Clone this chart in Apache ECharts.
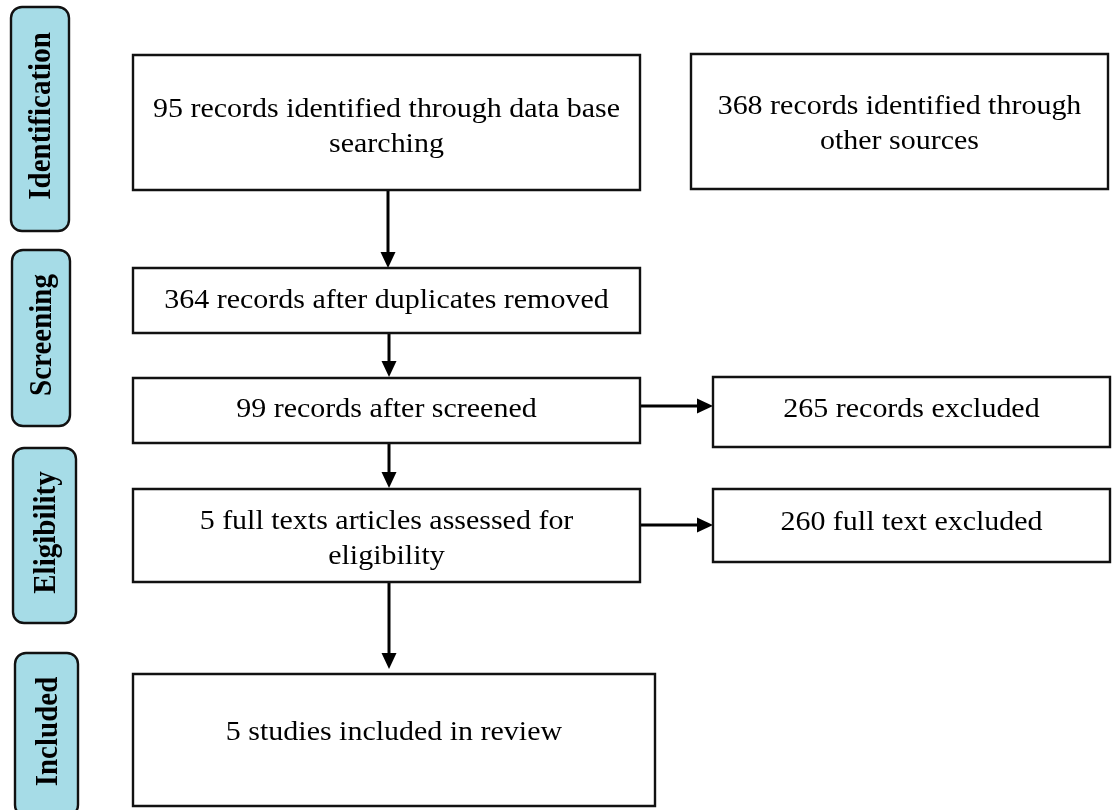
<!DOCTYPE html>
<html>
<head>
<meta charset="utf-8">
<script src="https://cdn.jsdelivr.net/npm/echarts@6/dist/echarts.min.js"></script>
<style>
  html, body { margin: 0; padding: 0; background: #fff; }
  #flow-chart { width: 1115px; height: 810px; }
</style>
</head>
<body>
<div id="flow-chart"></div>
<script>
// stages down the left side
var stageNames = ['Identification', 'Screening', 'Eligibility', 'Included'];

// counts and what they stand for
var recordCounts = [95, 368, 364, 99, 265, 5, 260, 5];
var recordLabels = [
  'records identified through data base\nsearching',
  'records identified through\nother sources',
  'records after duplicates removed',
  'records after screened',
  'records excluded',
  'full texts articles assessed for\neligibility',
  'full text excluded',
  'studies included in review'
];

// layout, in pixels of the hidden grid: [x0, y0, x1, y1]
var stageFrames = [[11, 7, 69, 231], [12, 250, 70, 426], [13, 448, 76, 623], [15, 653, 78, 816]];
// [x0, y0, x1, y1, text centre y]
var boxFrames = [
  [133, 55, 640, 190, 127],
  [691, 54, 1108, 189, 124],
  [133, 268, 640, 333, 301],
  [133, 378, 640, 443, 410],
  [713, 377, 1110, 447, 410],
  [133, 489, 640, 582, 539],
  [713, 489, 1110, 562, 523],
  [133, 674, 655, 806, 733]
];
// [x0, y0, x1, y1] of each connector, head at the end
var arrowPaths = [
  [388, 190, 388, 268],
  [389, 334, 389, 377],
  [389, 444, 389, 488],
  [389, 583, 389, 669],
  [640, 406, 713, 406],
  [640, 525, 713, 525]
];

var SERIF = '"Liberation Serif", "Times New Roman", serif';
var STRETCH = 1.11; // the figure is a bit wider than tall

function renderStage(params, api) {
  var p0 = api.coord([api.value(0), api.value(1)]);
  var p1 = api.coord([api.value(2), api.value(3)]);
  return {
    type: 'group',
    children: [
      {
        type: 'rect',
        shape: { x: p0[0], y: p0[1], width: p1[0] - p0[0], height: p1[1] - p0[1], r: 11 },
        style: { fill: '#a6dce7', stroke: '#111', lineWidth: 2.4 }
      },
      {
        type: 'text',
        x: (p0[0] + p1[0]) / 2 + 2,
        y: (p0[1] + p1[1]) / 2 - 3,
        rotation: Math.PI / 2,
        scaleY: STRETCH,
        style: {
          text: stageNames[params.dataIndex],
          fontFamily: SERIF,
          fontWeight: 'bold',
          fontSize: 29,
          fill: '#000',
          align: 'center',
          verticalAlign: 'middle'
        }
      }
    ]
  };
}

function renderBox(params, api) {
  var i = params.dataIndex;
  var p0 = api.coord([api.value(0), api.value(1)]);
  var p1 = api.coord([api.value(2), api.value(3)]);
  var ty = api.coord([0, api.value(4)])[1];
  return {
    type: 'group',
    children: [
      {
        type: 'rect',
        shape: { x: p0[0], y: p0[1], width: p1[0] - p0[0], height: p1[1] - p0[1] },
        style: { fill: '#fff', stroke: '#111', lineWidth: 2.4 }
      },
      {
        type: 'text',
        x: (p0[0] + p1[0]) / 2,
        y: ty,
        scaleX: STRETCH,
        style: {
          text: recordCounts[i] + ' ' + recordLabels[i],
          fontFamily: SERIF,
          fontSize: 27,
          lineHeight: 35,
          fill: '#000',
          align: 'center',
          verticalAlign: 'middle'
        }
      }
    ]
  };
}

function renderArrow(params, api) {
  var a = api.coord([api.value(0), api.value(1)]);
  var b = api.coord([api.value(2), api.value(3)]);
  var dx = b[0] - a[0], dy = b[1] - a[1];
  var len = Math.sqrt(dx * dx + dy * dy);
  var ux = dx / len, uy = dy / len;
  var headLen = 16, headHalf = 7.5;
  var bx = b[0] - ux * headLen, by = b[1] - uy * headLen;
  return {
    type: 'group',
    children: [
      {
        type: 'line',
        shape: { x1: a[0], y1: a[1], x2: bx, y2: by },
        style: { stroke: '#000', lineWidth: 3 }
      },
      {
        type: 'polygon',
        shape: { points: [[b[0], b[1]], [bx - uy * headHalf, by + ux * headHalf], [bx + uy * headHalf, by - ux * headHalf]] },
        style: { fill: '#000' }
      }
    ]
  };
}

var myChart = echarts.init(document.getElementById('flow-chart'));
myChart.setOption({
  backgroundColor: '#fff',
  animation: false,
  grid: { left: 0, right: 0, top: 0, bottom: 0 },
  xAxis: { type: 'value', min: 0, max: 1115, show: false },
  yAxis: { type: 'value', min: 0, max: 810, inverse: true, show: false },
  series: [
    { type: 'custom', renderItem: renderArrow, data: arrowPaths, clip: false, silent: true },
    { type: 'custom', renderItem: renderStage, data: stageFrames, clip: false, silent: true },
    { type: 'custom', renderItem: renderBox, data: boxFrames, clip: false, silent: true }
  ]
});
</script>
</body>
</html>
